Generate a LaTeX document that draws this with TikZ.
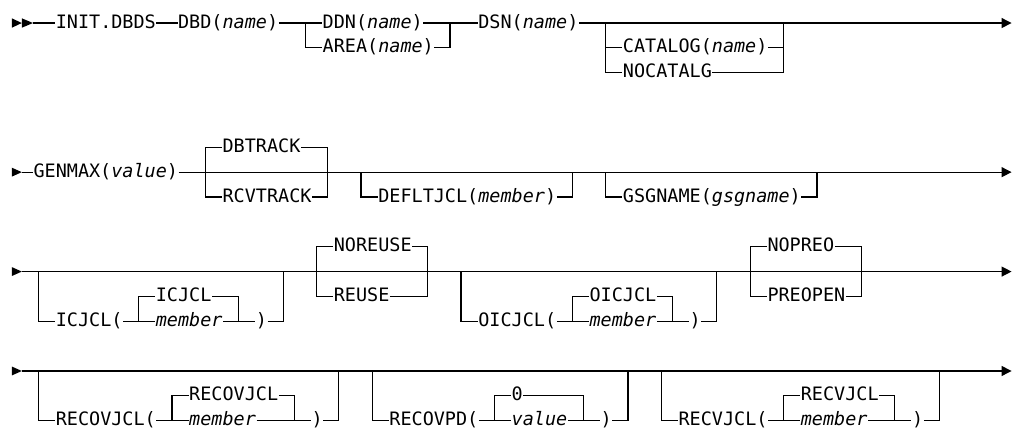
\documentclass[tikz,border=0pt]{standalone}
\usepackage{fontspec}
\newfontfamily\synfont{DejaVu Sans Mono}
\usetikzlibrary{arrows.meta}

\begin{document}
\begin{tikzpicture}[
  x=8.34pt, y=-18.64pt,
  line width=0.9pt,
  kw/.style={font=\fontsize{13.85pt}{16pt}\synfont,anchor=west,
    inner xsep=0pt,inner ysep=0pt,text height=9.75pt,text depth=2.25pt},
  rail/.style={-{Triangle[length=7.5pt,width=7.5pt]}}
]
  \useasboundingbox (-0.962,-0.926) rectangle (90.31,16.298);

  % row 1
  \fill (0.1,-0.19) -- (1,0) -- (0.1,0.19) -- cycle;
  \fill (1,-0.19) -- (2,0) -- (1,0.19) -- cycle;
  \coordinate (s1) at (2,0);
  \node[kw] (init) at (4,0) {INIT.DBDS};
  \node[kw] (dbd) at (15,0) {DBD(\textit{name})};
  \coordinate (a1) at (26.5,0);
  \node[kw] (ddn) at (28,0) {DDN(\textit{name})};
  \node[kw] (area) at (28,1) {AREA(\textit{name})};
  \coordinate (a2) at (39.5,0);
  \node[kw] (dsn) at (42,0) {DSN(\textit{name})};
  \coordinate (a3) at (53.5,0);
  \node[kw] (catalog) at (55,1) {CATALOG(\textit{name})};
  \node[kw] (nocatalg) at (55,2) {NOCATALG};
  \coordinate (a4) at (69.5,0);
  \coordinate (e1) at (90,0);

  \draw (s1) -- (init.west);
  \draw (init.east) -- (dbd.west);
  \draw (dbd.east) -- (a1) -- (ddn.west);
  \draw (a1) |- (area.west);
  \draw (ddn.east) -- (a2) -- (dsn.west);
  \draw (area.east) -| (a2);
  \draw[rail] (dsn.east) -- (a3) -- (a4) -- (e1);
  \draw (a3) |- (catalog.west);
  \draw (a3) |- (nocatalg.west);
  \draw (catalog.east) -| (a4);
  \draw (nocatalg.east) -| (a4);

  % row 2
  \fill (0.1,5.82) -- (1,6) -- (0.1,6.18) -- cycle;
  \coordinate (s2) at (1,6);
  \node[kw] (genmax) at (2,6) {GENMAX(\textit{value})};
  \coordinate (b1) at (17.5,6);
  \node[kw] (dbtrack) at (19,5) {DBTRACK};
  \node[kw] (rcvtrack) at (19,7) {RCVTRACK};
  \coordinate (b2) at (28.5,6);
  \coordinate (b3) at (31.5,6);
  \node[kw] (defltjcl) at (33,7) {DEFLTJCL(\textit{member})};
  \coordinate (b4) at (50.5,6);
  \coordinate (b5) at (53.5,6);
  \node[kw] (gsgname) at (55,7) {GSGNAME(\textit{gsgname})};
  \coordinate (b6) at (72.5,6);
  \coordinate (e2) at (90,6);

  \draw (s2) -- (genmax.west);
  \draw[rail] (genmax.east) -- (b1) -- (b2) -- (b3) -- (b4) -- (b5) -- (b6) -- (e2);
  \draw (b1) |- (dbtrack.west);
  \draw (b1) |- (rcvtrack.west);
  \draw (dbtrack.east) -| (b2);
  \draw (rcvtrack.east) -| (b2);
  \draw (b3) |- (defltjcl.west);
  \draw (defltjcl.east) -| (b4);
  \draw (b5) |- (gsgname.west);
  \draw (gsgname.east) -| (b6);

  % row 3
  \fill (0.1,9.82) -- (1,10) -- (0.1,10.18) -- cycle;
  \coordinate (s3) at (1,10);
  \coordinate (c1) at (2.5,10);
  \node[kw] (icjcl) at (4,12) {ICJCL(};
  \coordinate (c2) at (11.5,12);
  \node[kw] (icjcldef) at (13,11) {ICJCL};
  \node[kw] (icjclmem) at (13,12) {\textit{member}};
  \coordinate (c3) at (20.5,12);
  \node[kw] (icjclend) at (22,12) {)};
  \coordinate (c4) at (24.5,10);
  \coordinate (c5) at (27.5,10);
  \node[kw] (noreuse) at (29,9) {NOREUSE};
  \node[kw] (reuse) at (29,11) {REUSE};
  \coordinate (c6) at (37.5,10);
  \coordinate (c7) at (40.5,10);
  \node[kw] (oicjcl) at (42,12) {OICJCL(};
  \coordinate (c8) at (50.5,12);
  \node[kw] (oicjcldef) at (52,11) {OICJCL};
  \node[kw] (oicjclmem) at (52,12) {\textit{member}};
  \coordinate (c9) at (59.5,12);
  \node[kw] (oicjclend) at (61,12) {)};
  \coordinate (c10) at (63.5,10);
  \coordinate (c11) at (66.5,10);
  \node[kw] (nopreo) at (68,9) {NOPREO};
  \node[kw] (preopen) at (68,11) {PREOPEN};
  \coordinate (c12) at (76.5,10);
  \coordinate (e3) at (90,10);

  \draw[rail] (s3) -- (c1) -- (c4) -- (c5) -- (c6) -- (c7) -- (c10) -- (c11) -- (c12) -- (e3);
  \draw (c1) |- (icjcl.west);
  \draw (icjcl.east) -- (c2) |- (icjcldef.west);
  \draw (c2) -- (icjclmem.west);
  \draw (icjcldef.east) -| (c3);
  \draw (icjclmem.east) -- (c3) -- (icjclend.west);
  \draw (icjclend.east) -| (c4);
  \draw (c5) |- (noreuse.west);
  \draw (c5) |- (reuse.west);
  \draw (noreuse.east) -| (c6);
  \draw (reuse.east) -| (c6);
  \draw (c7) |- (oicjcl.west);
  \draw (oicjcl.east) -- (c8) |- (oicjcldef.west);
  \draw (c8) -- (oicjclmem.west);
  \draw (oicjcldef.east) -| (c9);
  \draw (oicjclmem.east) -- (c9) -- (oicjclend.west);
  \draw (oicjclend.east) -| (c10);
  \draw (c11) |- (nopreo.west);
  \draw (c11) |- (preopen.west);
  \draw (nopreo.east) -| (c12);
  \draw (preopen.east) -| (c12);

  % row 4
  \fill (0.1,13.82) -- (1,14) -- (0.1,14.18) -- cycle;
  \coordinate (s4) at (1,14);
  \coordinate (d1) at (2.5,14);
  \node[kw] (recovjcl) at (4,16) {RECOVJCL(};
  \coordinate (d2) at (14.5,16);
  \node[kw] (recovdef) at (16,15) {RECOVJCL};
  \node[kw] (recovmem) at (16,16) {\textit{member}};
  \coordinate (d3) at (25.5,16);
  \node[kw] (recovend) at (27,16) {)};
  \coordinate (d4) at (29.5,14);
  \coordinate (d5) at (32.5,14);
  \node[kw] (recovpd) at (34,16) {RECOVPD(};
  \coordinate (d6) at (43.5,16);
  \node[kw] (pddef) at (45,15) {0};
  \node[kw] (pdval) at (45,16) {\textit{value}};
  \coordinate (d7) at (51.5,16);
  \node[kw] (pdend) at (53,16) {)};
  \coordinate (d8) at (55.5,14);
  \coordinate (d9) at (58.5,14);
  \node[kw] (recvjcl) at (60,16) {RECVJCL(};
  \coordinate (d10) at (69.5,16);
  \node[kw] (recvdef) at (71,15) {RECVJCL};
  \node[kw] (recvmem) at (71,16) {\textit{member}};
  \coordinate (d11) at (79.5,16);
  \node[kw] (recvend) at (81,16) {)};
  \coordinate (d12) at (83.5,14);
  \coordinate (e4) at (90,14);

  \draw[rail] (s4) -- (d1) -- (d4) -- (d5) -- (d8) -- (d9) -- (d12) -- (e4);
  \draw (d1) |- (recovjcl.west);
  \draw (recovjcl.east) -- (d2) |- (recovdef.west);
  \draw (d2) -- (recovmem.west);
  \draw (recovdef.east) -| (d3);
  \draw (recovmem.east) -- (d3) -- (recovend.west);
  \draw (recovend.east) -| (d4);
  \draw (d5) |- (recovpd.west);
  \draw (recovpd.east) -- (d6) |- (pddef.west);
  \draw (d6) -- (pdval.west);
  \draw (pddef.east) -| (d7);
  \draw (pdval.east) -- (d7) -- (pdend.west);
  \draw (pdend.east) -| (d8);
  \draw (d9) |- (recvjcl.west);
  \draw (recvjcl.east) -- (d10) |- (recvdef.west);
  \draw (d10) -- (recvmem.west);
  \draw (recvdef.east) -| (d11);
  \draw (recvmem.east) -- (d11) -- (recvend.west);
  \draw (recvend.east) -| (d12);
\end{tikzpicture}
\end{document}
